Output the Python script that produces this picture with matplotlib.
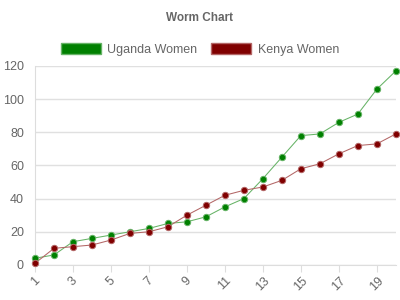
import matplotlib
matplotlib.use("Agg")
import matplotlib.pyplot as plt
from matplotlib.patches import Patch

weeks = list(range(1, 21))
uganda = [4, 6, 14, 16, 18, 20, 22, 25, 26, 29, 35, 40, 52, 65, 78, 79, 86, 91, 106, 117]
kenya = [1, 10, 11, 12, 15, 19, 20, 23, 30, 36, 42, 45, 47, 51, 58, 61, 67, 72, 73, 79]
series_names = ["Uganda Women", "Kenya Women"]
colors = ["#008000", "#800000"]
line_colors = ["#66b366", "#b36666"]
yticks = [0, 20, 40, 60, 80, 100, 120]
xticks = list(range(1, 21, 2))

plt.rcParams['font.family'] = ['Liberation Sans', 'DejaVu Sans']
fig = plt.figure(figsize=(4, 3), dpi=100)
ax = fig.add_axes([0.0875, 0.117, 0.902, 0.663])

for vals, c, lc in zip([uganda, kenya], colors, line_colors):
    ax.plot(weeks, vals, color=lc, lw=0.75, zorder=2)
    ax.plot(weeks, vals, ls='none', marker='o', ms=4.6, mfc=c, mec=lc, mew=0.7, zorder=3,
            clip_on=False)

ax.set_xlim(1, 20)
ax.set_ylim(0, 120)
ax.set_yticks(yticks)
ax.set_xticks(xticks)
ax.set_xticklabels([str(x) for x in xticks], rotation=45, ha='center', va='top')
ax.tick_params(axis='y', length=0, pad=8, labelsize=9, labelcolor='#666666')
ax.tick_params(axis='x', length=5, color='#dddddd', pad=2, labelsize=9, labelcolor='#666666')
ax.grid(axis='y', color='#e0e0e0', lw=1)
ax.set_axisbelow(True)
for s in ['top', 'right']:
    ax.spines[s].set_visible(False)
ax.spines['left'].set_color('#dddddd')
ax.spines['bottom'].set_color('#dddddd')

fig.text(0.5, 0.94, "Worm Chart", ha='center', va='center', fontsize=8.5, fontweight='bold',
         color='#666666')
handles = [Patch(facecolor=c, edgecolor=lc, lw=1) for c, lc in zip(colors, line_colors)]
fig.legend(handles, series_names, loc='center', bbox_to_anchor=(0.5, 0.835), ncol=2,
           frameon=False, fontsize=9, handlelength=3.2, handleheight=1.0,
           handletextpad=0.5, columnspacing=1.1, labelcolor='#666666')

fig.savefig("out.png", dpi=100)
